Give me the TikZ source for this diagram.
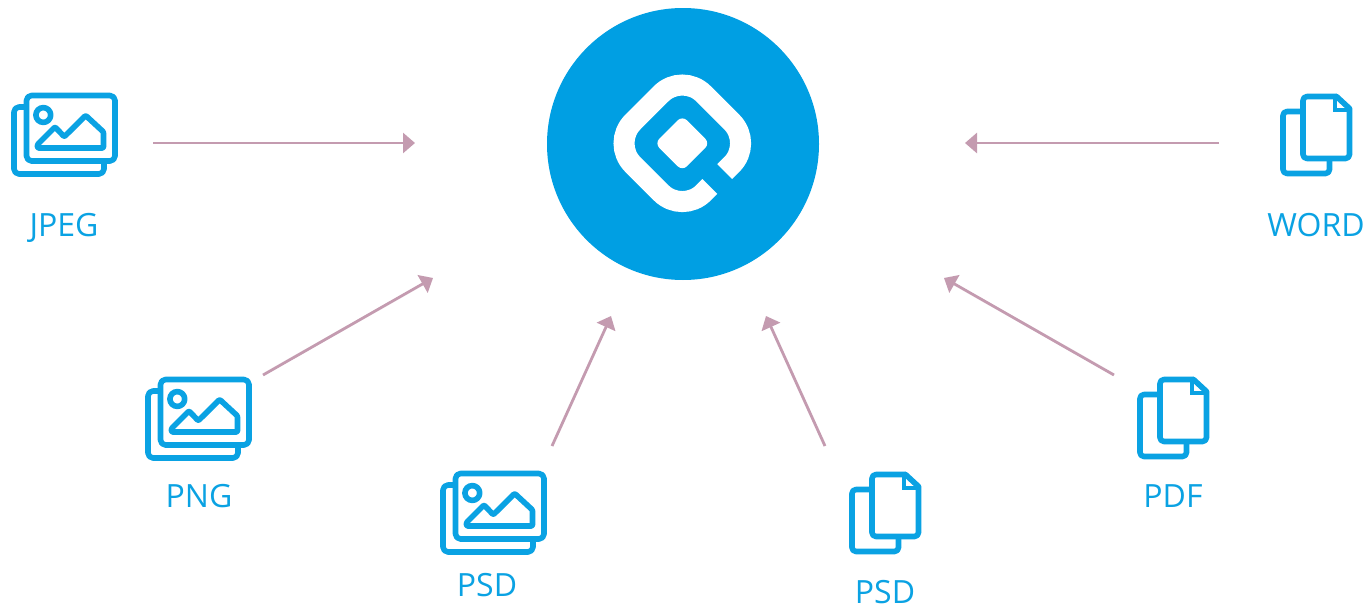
\documentclass[tikz,border=0pt]{standalone}
\usepackage{fontspec}
\setmainfont{Open Sans}
\usetikzlibrary{arrows.meta}
\definecolor{brand}{HTML}{009FE3}
\definecolor{iconblue}{HTML}{0AA2E3}
\definecolor{flow}{HTML}{C49BB0}
\tikzset{
  iconline/.style={draw=iconblue,line width=5.6pt,line join=round,fill=none},
  flowarrow/.style={draw=flow,line width=2.8pt,-{Triangle[length=12pt,width=20pt,fill=flow]},shorten >=0pt},
  lbl/.style={text=iconblue,font=\fontsize{32}{36}\selectfont,inner sep=0pt,anchor=base},
  imgicon/.pic={
    \draw[iconline,rounded corners=5pt] (26.5,95.5) rectangle (115,161);
    \draw[iconline,rounded corners=5pt] (26.5,107) -- (14,107) -- (14,174) -- (104,174) -- (104,161);
    \draw[iconline] (43.3,115) circle (7.4);
    \draw[iconline,rounded corners=1pt] (37.5,148) -- (103.5,148) -- (103.5,132) -- (85.7,115.5) -- (64.3,136.7) -- (55,127) -- (37.5,144.5) -- cycle;
  },
  docicon/.pic={
    \draw[iconline,rounded corners=4pt] (1336.5,96.5) -- (1303,96.5) -- (1303,158.5) -- (1349.5,158.5) -- (1349.5,108.5);
    \draw[iconline,line cap=round] (1336.5,96.5) -- (1349.5,108.5);
    \draw[iconline,line width=4pt,line join=miter] (1334.5,96) -- (1334.5,110) -- (1350,110);
    \draw[iconline,rounded corners=4pt] (1303,111.5) -- (1283,111.5) -- (1283,173.5) -- (1329.5,173.5) -- (1329.5,158.5);
  }
}
\begin{document}
\begin{tikzpicture}[x=1pt,y=-1pt]
\useasboundingbox (0,0) rectangle (1366,605);
\fill[white] (0,0) rectangle (1366,605);
% hub
\node[circle,fill=brand,draw=none,minimum size=272pt,inner sep=0pt] (hub) at (683,144) {};
\begin{scope}[shift={(682.3,143.3)},x={(0.7071pt,0.7071pt)},y={(0.7071pt,-0.7071pt)}]
  \draw[white,line width=21pt,rounded corners=30pt,line cap=butt] (10,50) -- (50,50) -- (50,-50) -- (-50,-50) -- (-50,50) -- (-11,50);
  \fill[white,rounded corners=6.5pt] (-19.5,-19.5) -- (19.5,-19.5) -- (19.5,19.5) -- (-19.5,19.5) -- cycle;
\end{scope}
% icons
\pic at (0,0) {imgicon};
\pic at (134,284) {imgicon};
\pic at (429,378) {imgicon};
\pic at (0,0) {docicon};
\pic at (-143,283) {docicon};
\pic at (-431,378) {docicon};
% labels
\node[lbl] (jpeg) at (64,236.5) {JPEG};
\node[lbl] (png) at (199,507.5) {PNG};
\node[lbl] (psda) at (487,596) {PSD};
\node[lbl] (psdb) at (885,603.5) {PSD};
\node[lbl] (pdf) at (1173,507.5) {PDF};
\node[lbl] (word) at (1316,236.5) {WORD};
% connector ends
\coordinate (a1) at (153,143); \coordinate (b1) at (415,143);
\coordinate (a2) at (263,375); \coordinate (b2) at (433,278);
\coordinate (a3) at (552,446); \coordinate (b3) at (611,316);
\coordinate (a4) at (825,446); \coordinate (b4) at (766,316);
\coordinate (a5) at (1114,375); \coordinate (b5) at (944,278);
\coordinate (a6) at (1219,143); \coordinate (b6) at (965,143);
\foreach \i in {1,...,6} \draw[flowarrow] (a\i) -- (b\i);
\end{tikzpicture}
\end{document}
